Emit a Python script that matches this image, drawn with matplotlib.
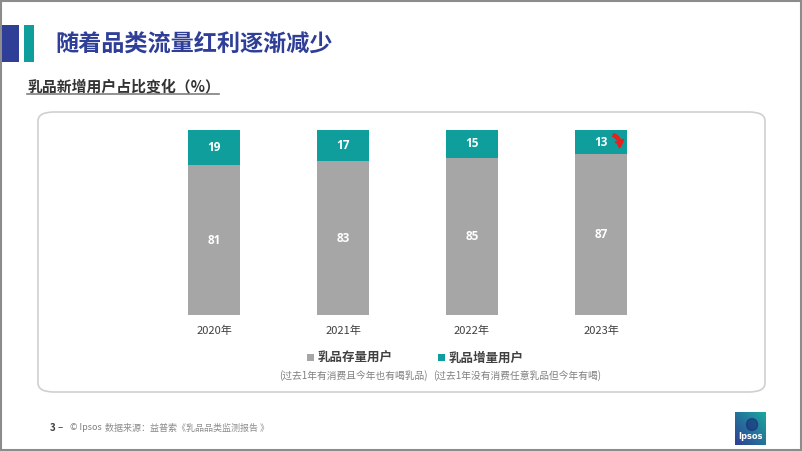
import numpy as np
import matplotlib.pyplot as plt
from matplotlib.patches import FancyBboxPatch, Rectangle, FancyArrowPatch

plt.rcParams['font.family'] = ['Noto Sans CJK SC', 'DejaVu Sans']

years = ['2020年', '2021年', '2022年', '2023年']
stock_users = [81, 83, 85, 87]   # 乳品存量用户
new_users = [19, 17, 15, 13]     # 乳品增量用户

GRAY = '#A6A6A6'
TEAL = '#0F9E9B'
BLUE = '#2F3E97'

W, H = 802, 451
fig = plt.figure(figsize=(W / 100, H / 100), dpi=100)


def fx(px):
    return px / W


def fy(py):
    return 1 - py / H


def box(x0, y0, w, h, color, **kw):
    # rectangle given in pixels from the top-left corner
    fig.add_artist(Rectangle((fx(x0), fy(y0 + h)), w / W, h / H, transform=fig.transFigure,
                             facecolor=color, edgecolor='none', **kw))


# outer frame of the slide
fig.add_artist(Rectangle((0.001, 0.002), 0.998, 0.996, transform=fig.transFigure,
                         fill=False, edgecolor='#8C8C8C', linewidth=1.5))

# title bars + title
box(2, 25, 17, 37, BLUE)
box(24, 25, 10, 37, TEAL)
fig.text(fx(55), fy(45), '随着品类流量红利逐渐减少', fontsize=16.7, fontweight='bold',
         color=BLUE, va='center', ha='left')

# sub heading with underline
fig.text(fx(27), fy(86), '乳品新增用户占比变化（%）', fontsize=10.7, fontweight='bold',
         color='#333333', va='center', ha='left')
fig.add_artist(plt.Line2D([fx(27), fx(219)], [fy(94), fy(94)], transform=fig.transFigure,
                          color='#7F7F7F', linewidth=1.2))

# rounded panel (behind the chart)
fig.add_artist(FancyBboxPatch((fx(38), fy(392)), fx(727), 280 / H,
                              boxstyle='round,pad=0,rounding_size=0.02',
                              transform=fig.transFigure, facecolor='white',
                              edgecolor='#D0D0D0', linewidth=1.2, zorder=-1))

# bar chart
ax = fig.add_axes([fx(149.5), fy(315), 516 / W, 185 / H])
ax.patch.set_visible(False)
x = np.arange(len(years))
width = 0.40
ax.bar(x, stock_users, width, color=GRAY, zorder=2)
ax.bar(x, new_users, width, bottom=stock_users, color=TEAL, zorder=2)
for i in range(len(years)):
    ax.text(x[i], stock_users[i] / 2, str(stock_users[i]), ha='center', va='center',
            color='white', fontsize=8.5, fontweight='bold', family=['Open Sans', 'DejaVu Sans'])
    ax.text(x[i], stock_users[i] + new_users[i] / 2, str(new_users[i]), ha='center',
            va='center', color='white', fontsize=8.5, fontweight='bold',
            family=['Open Sans', 'DejaVu Sans'])
    ax.text(x[i], -8.5, years[i], ha='center', va='center', color='#404040', fontsize=8)

# red down arrow on the 2023 new users
ax.add_patch(FancyArrowPatch((3.075, 97.8), (3.135, 89.0), connectionstyle='arc3,rad=-0.55',
                             arrowstyle='simple,head_width=6,head_length=5,tail_width=2.2',
                             color='#E8201F', zorder=5))

ax.set_xlim(-0.5, 3.5)
ax.set_ylim(0, 100)
ax.axis('off')

# legend
box(307, 354, 7, 7, GRAY)
fig.text(fx(318), fy(358), '乳品存量用户', fontsize=9, fontweight='bold', color='#404040',
         va='center', ha='left')
box(438, 354, 7, 7, TEAL)
fig.text(fx(449), fy(358), '乳品增量用户', fontsize=9, fontweight='bold', color='#404040',
         va='center', ha='left')
fig.text(fx(279), fy(376), '(过去1年有消费且今年也有喝乳品)', fontsize=7,
         color='#7F7F7F', va='center', ha='left')
fig.text(fx(433), fy(376), '(过去1年没有消费任意乳品但今年有喝)', fontsize=7,
         color='#7F7F7F', va='center', ha='left')

# footer
fig.text(fx(50), fy(428), '3', fontsize=7, fontweight='bold', color='#404040', va='center')
fig.text(fx(58), fy(428), '–', fontsize=7, color='#404040', va='center')
fig.text(fx(70), fy(428), '© Ipsos', fontsize=6.5, color='#7F7F7F', va='center')
fig.text(fx(105), fy(428), '数据来源：益普索《乳品品类监测报告 》', fontsize=6.5,
         color='#8C8C8C', va='center')

# Ipsos logo with gradient
lax = fig.add_axes([fx(735), fy(445), 31 / W, 33 / H])
grad = np.linspace(0, 1, 64)
gx, gy = np.meshgrid(grad, grad)
t = np.clip((gx + (1 - gy)) / 2, 0, 1)
c1 = np.array([0x2F, 0x3E, 0x97]) / 255
c2 = np.array([0x1A, 0xA8, 0x9E]) / 255
img = c1[None, None, :] * (1 - t[..., None]) + c2[None, None, :] * t[..., None]
lax.imshow(img, extent=[0, 1, 0, 1], aspect='auto')
lax.add_patch(plt.Circle((0.55, 0.62), 0.18, color='#1B2A7A', alpha=0.6))
lax.text(0.5, 0.25, 'Ipsos', color='white', fontsize=6, fontweight='bold',
         ha='center', va='center', family='DejaVu Sans')
lax.axis('off')

fig.savefig('out.png', dpi=100)
